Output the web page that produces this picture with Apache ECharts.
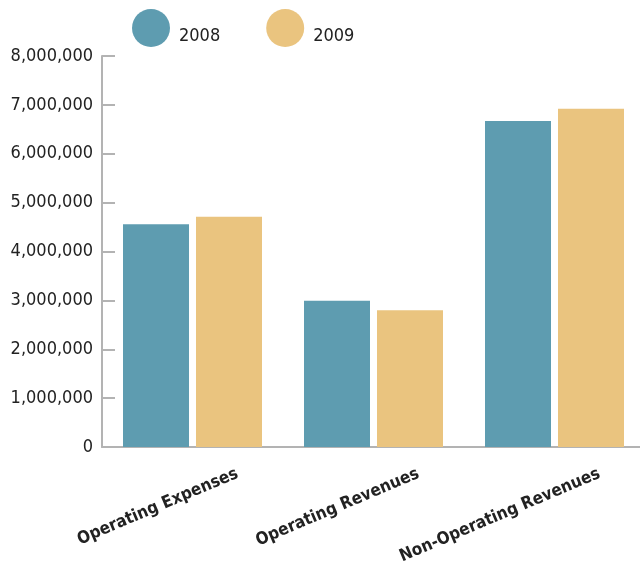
<!DOCTYPE html>
<html>
<head>
<meta charset="utf-8">
<script src="https://cdn.jsdelivr.net/npm/echarts@6/dist/echarts.min.js"></script>
<style>html,body{margin:0;padding:0;background:#fff}#c{width:640px;height:565px}</style>
</head>
<body>
<div id="c"></div>
<script>
const categories = ["Operating Expenses", "Operating Revenues", "Non-Operating Revenues"];
const seriesNames = ["2008", "2009"];
const values2008 = [4560000, 2990000, 6670000];
const values2009 = [4710000, 2800000, 6920000];
const yTicks = { min: 0, max: 8000000, interval: 1000000 };
const colors = ["#5e9cb0", "#eac47f"];

const chart = echarts.init(document.getElementById('c'), null, { renderer: 'canvas' });
const fontFam = "'DejaVu Sans Condensed', 'Liberation Sans Narrow', sans-serif";
const axisGray = '#b3b3b3';

chart.setOption({
  animation: false,
  backgroundColor: '#fff',
  legend: {
    left: 132, top: 9, padding: 0,
    itemWidth: 38, itemHeight: 38, itemGap: 46,
    icon: 'circle',
    data: seriesNames,
    formatter: '{a|{name}}',
    textStyle: {
      fontFamily: fontFam, fontSize: 18, color: '#222',
      rich: { a: { fontFamily: fontFam, fontSize: 18, color: '#222', padding: [16, 0, 0, 4] } }
    }
  },
  grid: [
    { left: 102, width: 543, top: 56, bottom: 118, outerBoundsMode: 'none', containLabel: false },
    { left: 147, width: 543, top: 56, bottom: 118, outerBoundsMode: 'none', containLabel: false }
  ],
  xAxis: [
    {
      type: 'category', gridIndex: 0, data: categories,
      axisLine: { lineStyle: { color: axisGray, width: 2 } },
      axisTick: { show: false },
      axisLabel: { show: false }
    },
    {
      type: 'category', gridIndex: 1, data: categories,
      axisLine: { show: false },
      axisTick: { show: false },
      axisLabel: {
        rotate: 23, margin: 26, interval: 0,
        fontFamily: fontFam, fontSize: 17, fontWeight: 'bold', color: '#222'
      }
    }
  ],
  yAxis: [
    {
      type: 'value', gridIndex: 0,
      min: yTicks.min, max: yTicks.max, interval: yTicks.interval,
      axisLine: { show: true, lineStyle: { color: axisGray, width: 2 } },
      axisTick: { show: true, inside: true, length: 13, lineStyle: { color: axisGray, width: 2 } },
      splitLine: { show: false },
      axisLabel: {
        margin: 9, fontFamily: fontFam, fontSize: 18, color: '#222',
        formatter: v => v.toLocaleString('en-US')
      }
    },
    { type: 'value', gridIndex: 1, show: false, min: 0, max: 1 }
  ],
  series: [
    {
      name: seriesNames[0], type: 'bar', xAxisIndex: 0, yAxisIndex: 0,
      data: values2008, itemStyle: { color: colors[0] },
      barWidth: 66, barGap: '10.6%'
    },
    {
      name: seriesNames[1], type: 'bar', xAxisIndex: 0, yAxisIndex: 0,
      data: values2009, itemStyle: { color: colors[1] },
      barWidth: 66, barGap: '10.6%'
    }
  ]
});
</script>
</body>
</html>
